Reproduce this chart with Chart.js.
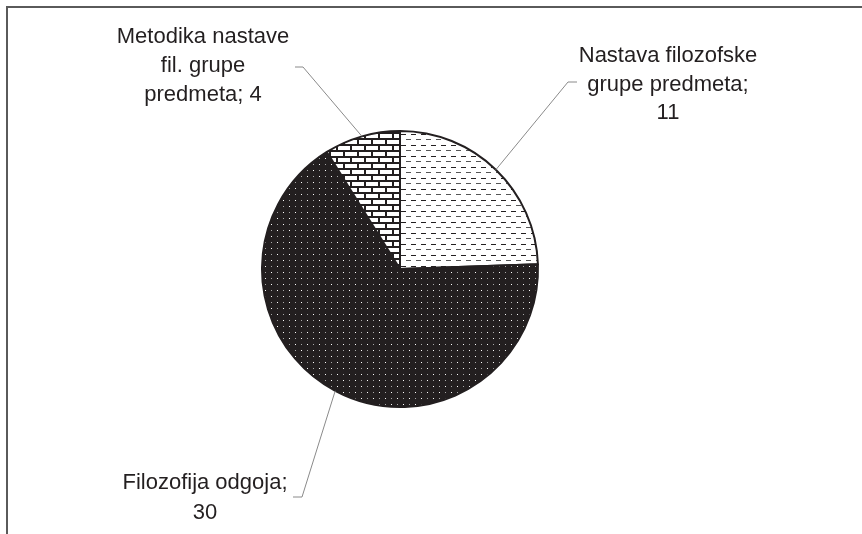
<!DOCTYPE html>
<html>
<head>
<meta charset="utf-8">
<script src="https://cdn.jsdelivr.net/npm/chart.js@4.4.0/dist/chart.umd.min.js"></script>
<style>
html,body{margin:0;padding:0;background:#fff;}
#wrap{width:862px;height:534px;position:relative;}
</style>
</head>
<body>
<div id="wrap"><canvas id="c" width="862" height="534"></canvas></div>
<script>
const categories = ["Nastava filozofske grupe predmeta", "Filozofija odgoja", "Metodika nastave fil. grupe predmeta"];
const values = [11, 30, 4];
const labelLines = [
  ["Nastava filozofske", "grupe predmeta;", "11"],
  ["Filozofija odgoja;", "30"],
  ["Metodika nastave", "fil. grupe", "predmeta; 4"]
];

const INK = '#231f20';

function makeTile(w, h, draw) {
  const c = document.createElement('canvas');
  c.width = w; c.height = h;
  const g = c.getContext('2d');
  draw(g);
  return g.createPattern(c, 'repeat');
}
const dashPattern = makeTile(10, 11, g => {
  g.fillStyle = '#fff'; g.fillRect(0, 0, 10, 11);
  g.fillStyle = INK; g.fillRect(1, 2, 5, 1);
  g.fillStyle = '#555'; g.fillRect(6, 7, 4, 1); g.fillRect(0, 7, 1, 1);
});
const dotPattern = makeTile(12, 12, g => {
  g.fillStyle = INK; g.fillRect(0, 0, 12, 12);
  g.fillStyle = '#ffffff'; g.fillRect(1, 2, 1, 1); g.fillRect(7, 8, 1, 1);
  g.fillStyle = '#a8a8a8'; g.fillRect(7, 2, 1, 1); g.fillRect(1, 8, 1, 1);
});
const brickPattern = makeTile(14, 12, g => {
  g.fillStyle = '#fff'; g.fillRect(0, 0, 14, 12);
  g.fillStyle = INK;
  g.fillRect(0, 0, 14, 2);
  g.fillRect(0, 6, 14, 2);
  g.fillRect(0, 0, 2, 6);
  g.fillRect(7, 6, 2, 6);
});

const labelLayout = [
  {cx: 668, base: 62, lh: 28.5, elbow: [568, 82], end: [577, 82]},
  {cx: 205, base: 489, lh: 29.5, elbow: [302, 497], end: [293, 497]},
  {cx: 203, base: 43, lh: 29.2, elbow: [303, 67], end: [295, 67]}
];

const framePlugin = {
  id: 'frame',
  afterDraw(chart) {
    const ctx = chart.ctx;
    ctx.save();
    ctx.strokeStyle = '#5a5a5a';
    ctx.lineWidth = 2;
    ctx.beginPath();
    ctx.moveTo(7, 534);
    ctx.lineTo(7, 7);
    ctx.lineTo(862, 7);
    ctx.stroke();
    ctx.restore();
  }
};

const labelPlugin = {
  id: 'pieLabels',
  afterDatasetsDraw(chart) {
    const ctx = chart.ctx;
    const meta = chart.getDatasetMeta(0);
    ctx.save();
    meta.data.forEach((arc, i) => {
      const p = arc.getProps(['x', 'y', 'startAngle', 'endAngle', 'outerRadius'], true);
      const mid = (p.startAngle + p.endAngle) / 2;
      const ex = p.x + Math.cos(mid) * p.outerRadius;
      const ey = p.y + Math.sin(mid) * p.outerRadius;
      const L = labelLayout[i];
      ctx.strokeStyle = '#8a8a8a';
      ctx.lineWidth = 1;
      ctx.beginPath();
      ctx.moveTo(ex, ey);
      ctx.lineTo(L.elbow[0], L.elbow[1]);
      ctx.lineTo(L.end[0], L.end[1]);
      ctx.stroke();
      ctx.fillStyle = INK;
      ctx.font = '22px "Liberation Sans", Arial, sans-serif';
      ctx.textAlign = 'center';
      ctx.textBaseline = 'alphabetic';
      labelLines[i].forEach((t, k) => {
        ctx.fillText(t, L.cx, L.base + k * L.lh);
      });
    });
    ctx.restore();
  }
};

new Chart(document.getElementById('c'), {
  type: 'pie',
  data: {
    labels: categories,
    datasets: [{
      data: values,
      backgroundColor: [dashPattern, dotPattern, brickPattern],
      borderColor: INK,
      borderWidth: 2,
      borderAlign: 'center',
      hoverOffset: 0
    }]
  },
  options: {
    responsive: false,
    animation: false,
    events: [],
    layout: {padding: {left: 261, right: 323, top: 130, bottom: 126}},
    plugins: {
      legend: {display: false},
      tooltip: {enabled: false},
      title: {display: false}
    }
  },
  plugins: [labelPlugin, framePlugin]
});
</script>
</body>
</html>
